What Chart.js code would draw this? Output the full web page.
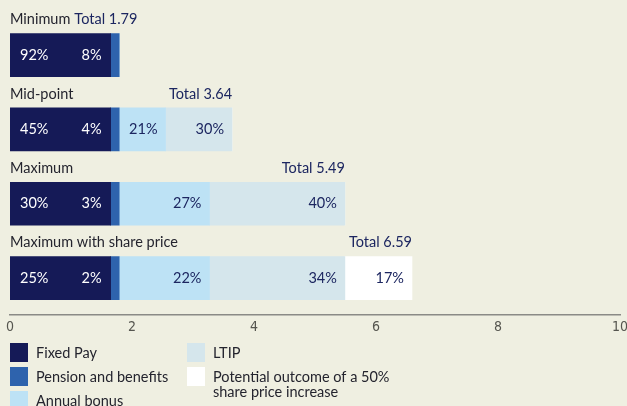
<!DOCTYPE html>
<html>
<head>
<meta charset="utf-8">
<script src="https://cdn.jsdelivr.net/npm/chart.js@4.4.1/dist/chart.umd.min.js"></script>
<style>
  html, body { margin: 0; padding: 0; background: #efefe1; }
  #wrap { width: 627px; height: 406px; position: relative; }
</style>
</head>
<body>
<div id="wrap"><canvas id="payChart" width="627" height="406"></canvas></div>
<script>
// scenarios, values in £m
const scenarios = ['Minimum', 'Mid-point', 'Maximum', 'Maximum with share price'];
const fixedPay = [1.65, 1.65, 1.65, 1.65];
const pensionBenefits = [0.14, 0.14, 0.14, 0.14];
const annualBonus = [0, 0.76, 1.48, 1.48];
const ltip = [0, 1.09, 2.22, 2.22];
const shareUplift = [0, 0, 0, 1.10];
const xTicks = [0, 2, 4, 6, 8, 10];

const seriesNames = ['Fixed Pay', 'Pension and benefits', 'Annual bonus', 'LTIP', 'Potential outcome of a 50%\nshare price increase'];
const seriesColours = ['#151a57', '#2e63ad', '#bde2f5', '#d5e6ec', '#ffffff'];
const seriesData = [fixedPay, pensionBenefits, annualBonus, ltip, shareUplift];

const FONT = 'Lato, "Noto Sans", sans-serif';
const TEXT = '#24242e';
const NAVY_TEXT = '#1c2660';

function totalFor(i) {
    let t = 0;
    seriesData.forEach(s => t += s[i]);
    return t;
}

// labels above the bars, percentages inside, totals at bar end, legend underneath
const barText = {
    id: 'barText',
    afterDatasetsDraw(chart) {
        const ctx = chart.ctx;
        ctx.save();
        ctx.textBaseline = 'middle';
        ctx.font = '14.5px ' + FONT;

        scenarios.forEach((name, i) => {
            const base = chart.getDatasetMeta(0).data[i];
            const top = base.y - base.height / 2;
            const labelY = top - 14;
            ctx.fillStyle = TEXT;
            ctx.textAlign = 'left';
            ctx.fillText(name, 10, labelY);

            // last non-empty segment sets where the total goes
            let endX = base.x;
            chart.data.datasets.forEach((ds, d) => {
                if (ds.data[i] > 0) endX = chart.getDatasetMeta(d).data[i].x;
            });
            const total = totalFor(i);
            const totalText = 'Total ' + total.toFixed(2);
            const nameW = ctx.measureText(name).width;
            const totalW = ctx.measureText(totalText).width;
            ctx.fillStyle = NAVY_TEXT;
            if (endX - totalW < 10 + nameW + 4) {
                ctx.fillText(totalText, 10 + nameW + 4, labelY);
            } else {
                ctx.textAlign = 'right';
                ctx.fillText(totalText, endX, labelY);
            }

            // percentages
            chart.data.datasets.forEach((ds, d) => {
                const v = ds.data[i];
                if (!v) return;
                const bar = chart.getDatasetMeta(d).data[i];
                const pct = Math.round(v / total * 100) + '%';
                const startX = bar.base;
                if (d === 0) {
                    ctx.fillStyle = '#ffffff';
                    ctx.textAlign = 'left';
                    ctx.fillText(pct, startX + 10, bar.y);
                } else if (d === 1) {
                    // pension slice is too thin, label sits inside fixed pay
                    ctx.fillStyle = '#ffffff';
                    ctx.textAlign = 'right';
                    ctx.fillText(pct, startX - 9, bar.y);
                } else {
                    ctx.fillStyle = NAVY_TEXT;
                    ctx.textAlign = 'right';
                    ctx.fillText(pct, bar.x - 8, bar.y);
                }
            });
        });

        // legend, two columns
        const cols = [[0, 1, 2], [3, 4]];
        const colX = [10, 187];
        ctx.textAlign = 'left';
        cols.forEach((col, c) => {
            col.forEach((d, r) => {
                const y = 343 + r * 24;
                ctx.fillStyle = seriesColours[d];
                ctx.fillRect(colX[c], y, 18, 19);
                ctx.fillStyle = TEXT;
                const lines = seriesNames[d].split('\n');
                lines.forEach((ln, k) => {
                    ctx.fillText(ln, colX[c] + 26, y + 10 + k * 15);
                });
            });
        });
        ctx.restore();
    }
};

const ctx = document.getElementById('payChart').getContext('2d');
const payChart = new Chart(ctx, {
    type: 'bar',
    data: {
        labels: scenarios,
        datasets: seriesData.map((d, i) => ({
            label: seriesNames[i],
            data: d,
            backgroundColor: seriesColours[i],
            borderWidth: 0,
            barThickness: 43
        }))
    },
    options: {
        indexAxis: 'y',
        responsive: false,
        animation: false,
        layout: { padding: { top: 18, left: 10, right: 7, bottom: 66 } },
        plugins: {
            legend: { display: false },
            tooltip: { enabled: false }
        },
        scales: {
            x: {
                stacked: true,
                min: 0,
                max: 10,
                afterBuildTicks: s => { s.ticks = xTicks.map(v => ({ value: v })); },
                // keep the axis running nearly to the canvas edge
                afterFit: s => { s.paddingLeft = 0; s.paddingRight = 0; },
                grid: { display: false, drawTicks: false },
                border: { display: true, color: '#8a8a86', width: 1.5 },
                ticks: {
                    color: '#55554f',
                    padding: 4,
                    maxRotation: 0,
                    font: { family: '"Liberation Sans Narrow", "DejaVu Sans Condensed", sans-serif', size: 14 }
                }
            },
            y: {
                stacked: true,
                display: false
            }
        }
    },
    plugins: [barText]
});
</script>
</body>
</html>
